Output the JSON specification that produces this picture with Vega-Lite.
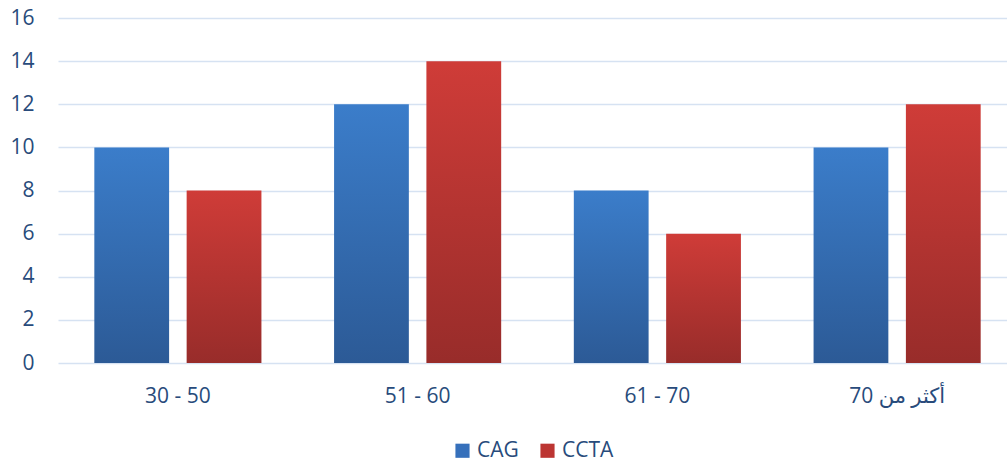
{
  "$schema": "https://vega.github.io/schema/vega-lite/v6.json",
  "width": 949,
  "height": 345,
  "autosize": {"type": "none"},
  "padding": {"left": 58, "top": 18, "right": 0, "bottom": 99},
  "background": "#ffffff",
  "data": {
    "values": [
      {"age": "30 - 50", "group": "CAG", "count": 10},
      {"age": "30 - 50", "group": "CCTA", "count": 8},
      {"age": "51 - 60", "group": "CAG", "count": 12},
      {"age": "51 - 60", "group": "CCTA", "count": 14},
      {"age": "61 - 70", "group": "CAG", "count": 8},
      {"age": "61 - 70", "group": "CCTA", "count": 6},
      {"age": "أكثر من 70", "group": "CAG", "count": 10},
      {"age": "أكثر من 70", "group": "CCTA", "count": 12}
    ]
  },
  "layer": [
    {
      "mark": {"type": "bar"},
      "encoding": {
        "x": {
          "field": "age",
          "type": "nominal",
          "sort": null,
          "scale": {"range": [0, 959], "paddingInner": 0.303, "paddingOuter": 0.1515},
          "axis": {
            "title": null,
            "labelAngle": 0,
            "domain": false,
            "ticks": false,
            "labelPadding": 22,
            "labelFontSize": 21,
            "labelFont": "Open Sans, DejaVu Sans",
            "labelColor": "#284b7b"
          }
        },
        "xOffset": {
          "field": "group",
          "type": "nominal",
          "scale": {"paddingInner": 0.19, "paddingOuter": 0}
        },
        "y": {
          "field": "count",
          "type": "quantitative",
          "scale": {"domain": [0, 16]},
          "axis": {
            "title": null,
            "values": [0, 2, 4, 6, 8, 10, 12, 14, 16],
            "domain": false,
            "ticks": false,
            "labelPadding": 24,
            "labelFontSize": 21,
            "labelFont": "Open Sans, DejaVu Sans",
            "labelColor": "#284b7b",
            "gridColor": "#d6e2f2",
            "gridWidth": 1.5
          }
        },
        "fill": {
          "condition": {
            "test": "datum.group === 'CAG'",
            "value": {"gradient": "linear", "x1": 0, "y1": 0, "x2": 0, "y2": 1, "stops": [{"offset": 0, "color": "#3b7dca"}, {"offset": 1, "color": "#2c5a96"}]}
          },
          "value": {"gradient": "linear", "x1": 0, "y1": 0, "x2": 0, "y2": 1, "stops": [{"offset": 0, "color": "#cf3c38"}, {"offset": 1, "color": "#982c2a"}]}
        }
      }
    },
    {
      "mark": {"type": "square", "opacity": 0},
      "encoding": {
        "color": {
          "field": "group",
          "type": "nominal",
          "scale": {"domain": ["CAG", "CCTA"], "range": ["#3670bb", "#bc3532"]},
          "legend": {
            "title": null,
            "orient": "bottom",
            "direction": "horizontal",
            "symbolType": "square",
            "symbolSize": 200,
            "symbolOpacity": 1,
            "symbolStrokeWidth": 0,
            "labelFontSize": 21,
            "labelOffset": 4,
            "labelFont": "Open Sans, DejaVu Sans",
            "labelColor": "#284b7b",
            "columnPadding": 18,
            "offset": 34
          }
        }
      }
    }
  ],
  "config": {
    "view": {"stroke": null},
    "legend": {"layout": {"bottom": {"anchor": "middle"}}}
  }
}
